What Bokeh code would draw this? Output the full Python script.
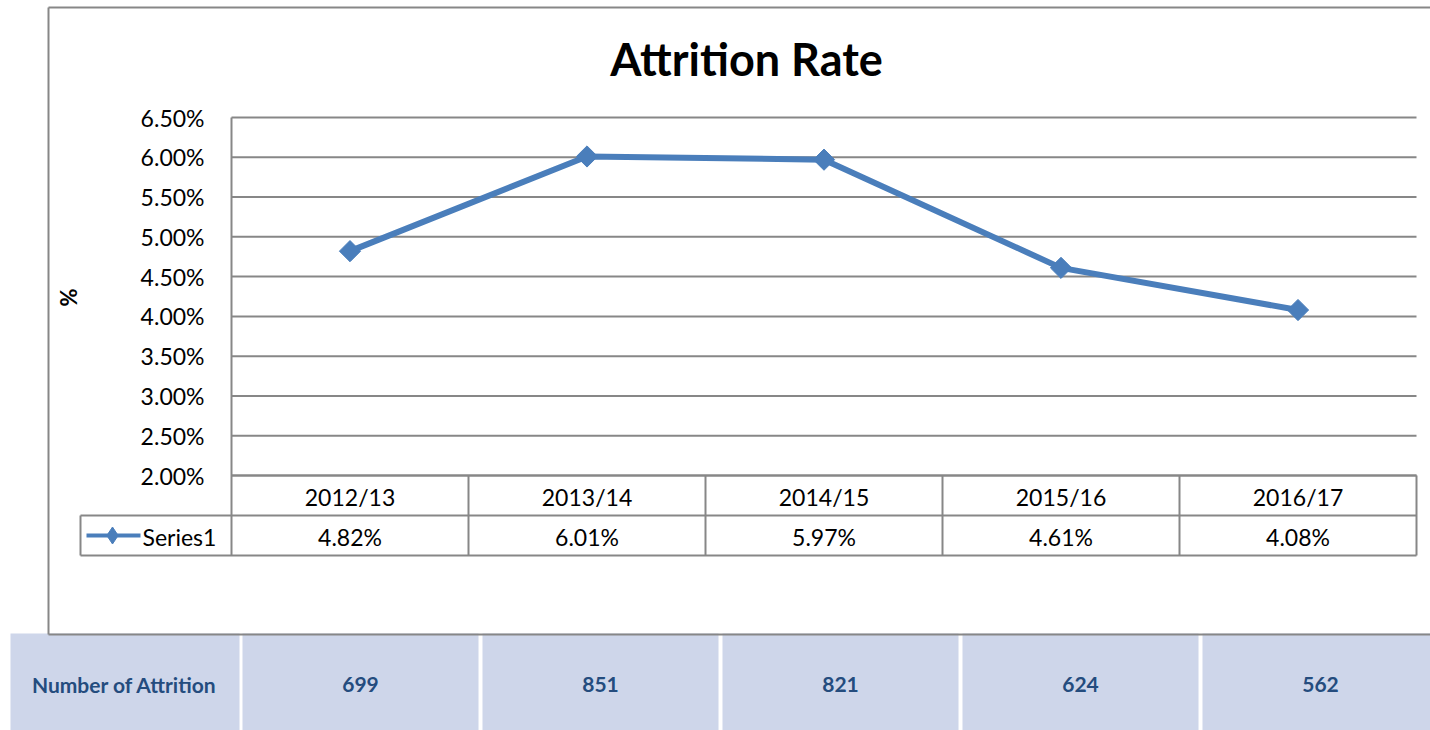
import math
from bokeh.plotting import figure
from bokeh.models import Range1d
from bokeh.core.properties import value
from bokeh.embed import file_html
from bokeh.resources import INLINE

# ---------------- data ----------------
title_text = "Attrition Rate"
y_axis_label = "%"
series_name = "Series1"
count_label = "Number of Attrition"
years = ["2012/13", "2013/14", "2014/15", "2015/16", "2016/17"]
attrition_rate = [0.0482, 0.0601, 0.0597, 0.0461, 0.0408]
attrition_count = [699, 851, 821, 624, 562]
y_ticks = [0.020, 0.025, 0.030, 0.035, 0.040, 0.045, 0.050, 0.055, 0.060, 0.065]
y_tick_labels = ["2.00%", "2.50%", "3.00%", "3.50%", "4.00%", "4.50%",
                 "5.00%", "5.50%", "6.00%", "6.50%"]

# ---------------- layout (canvas pixels) ----------------
W, H = 1430, 730
PL, PR, PT, PB = 231, 1416, 117, 475          # plot area
NCAT = len(years)
COLW = (PR - PL) / NCAT
ROW1_B, ROW2_B = 515, 555                      # data table rows
LEG_L = 80                                     # legend cell left
BORDER_L, BORDER_T, BORDER_B = 48, 7, 634      # chart area border
BT_T, BT_B = 635, H                            # bottom table
Y0, Y1 = y_ticks[0], y_ticks[-1]
S = (PB - PT) / (Y1 - Y0)

FONT = value("Lato")
GRID = "#878787"
BLUE = "#4A7EBB"
NAVY = "#244C7E"
CELL = "#CED6EA"

p = figure(width=W, height=H, x_range=Range1d(0, W), y_range=Range1d(H, 0),
           x_axis_type=None, y_axis_type=None, toolbar_location=None,
           output_backend="svg", min_border=0, outline_line_color=None,
           background_fill_color="white", border_fill_color="white")
p.xgrid.visible = False
p.ygrid.visible = False
p.extra_x_ranges = {"cat": Range1d(-PL / COLW, (W - PL) / COLW)}
p.extra_y_ranges = {"pct": Range1d(Y0 - (H - PB) / S, Y1 + PT / S)}

xc = [i + 0.5 for i in range(NCAT)]
edges = list(range(NCAT + 1))
leg_l = (LEG_L - PL) / COLW

# ---------------- bottom table ----------------
cell_l = [10] + [242 + 240 * i for i in range(NCAT)]
cell_r = [239] + [242 + 240 * i + 236 for i in range(NCAT)]
p.quad(left=cell_l, right=cell_r, top=BT_T - 2, bottom=BT_B,
       fill_color=CELL, line_color=None)
cell_c = [124] + [(a + b) / 2 for a, b in zip(cell_l[1:], cell_r[1:])]
bt_mid = 684
p.text(x=cell_c, y=[bt_mid] * len(cell_c),
       text=[count_label] + [str(v) for v in attrition_count],
       text_font=FONT, text_font_style="bold", text_font_size="21px",
       text_color=NAVY, text_align="center", text_baseline="middle")

# ---------------- chart border ----------------
p.segment(x0=[BORDER_L, BORDER_L, BORDER_L], x1=[W, BORDER_L, W],
          y0=[BORDER_T, BORDER_T, BORDER_B], y1=[BORDER_T, BORDER_B, BORDER_B],
          line_color=GRID, line_width=2)

# ---------------- gridlines ----------------
p.segment(x0=0, x1=NCAT, y0=y_ticks, y1=y_ticks,
          x_range_name="cat", y_range_name="pct",
          line_color=GRID, line_width=2)

# ---------------- data table grid ----------------
p.segment(x0=edges, x1=edges,
          y0=[PT] + [PB] * NCAT, y1=[ROW2_B] * (NCAT + 1),
          x_range_name="cat", line_color=GRID, line_width=2)
p.segment(x0=[0, leg_l, leg_l, leg_l], x1=[NCAT, NCAT, NCAT, leg_l],
          y0=[PB, ROW1_B, ROW2_B, ROW1_B], y1=[PB, ROW1_B, ROW2_B, ROW2_B],
          x_range_name="cat", line_color=GRID, line_width=2)

p.text(x=xc, y=[(PB + ROW1_B) / 2 + 1] * NCAT, text=years, x_range_name="cat",
       text_font=FONT, text_font_size="23px", text_color="black",
       text_align="center", text_baseline="middle")
p.text(x=xc, y=[(ROW1_B + ROW2_B) / 2 + 1] * NCAT,
       text=[f"{v * 100:.2f}%" for v in attrition_rate], x_range_name="cat",
       text_font=FONT, text_font_size="23px", text_color="black",
       text_align="center", text_baseline="middle")

# legend key
leg_y = (ROW1_B + ROW2_B) / 2
p.line(x=[LEG_L + 6, LEG_L + 60], y=[leg_y, leg_y], line_color=BLUE, line_width=4)
p.scatter(x=[LEG_L + 32], y=[leg_y], marker="diamond",
          size=17, fill_color=BLUE, line_color=BLUE)
p.text(x=[LEG_L + 62], y=[leg_y + 1], text=[series_name], text_font=FONT,
       text_font_size="23px", text_color="black", text_align="left",
       text_baseline="middle")

# ---------------- series ----------------
p.line(x=xc, y=attrition_rate, x_range_name="cat", y_range_name="pct",
       line_color=BLUE, line_width=6, line_join="round")
p.scatter(x=xc, y=attrition_rate, x_range_name="cat", y_range_name="pct",
          marker="square", angle=math.pi / 4, size=15,
          fill_color=BLUE, line_color=BLUE)

# ---------------- y tick labels, axis label, title ----------------
p.text(x=[PL - 27] * len(y_ticks), y=y_ticks, text=y_tick_labels,
       y_range_name="pct", text_font=FONT, text_font_size="23px",
       text_color="black", text_align="right", text_baseline="middle")
p.text(x=[68], y=[297], text=[y_axis_label], angle=math.pi / 2,
       text_font=FONT, text_font_style="bold", text_font_size="22px",
       text_color="black", text_align="center", text_baseline="middle")
p.text(x=[746], y=[58], text=[title_text],
       text_font=FONT, text_font_style="bold", text_font_size="45px",
       text_color="black", text_align="center", text_baseline="middle")

open("out.html", "w").write(file_html(p, INLINE))
